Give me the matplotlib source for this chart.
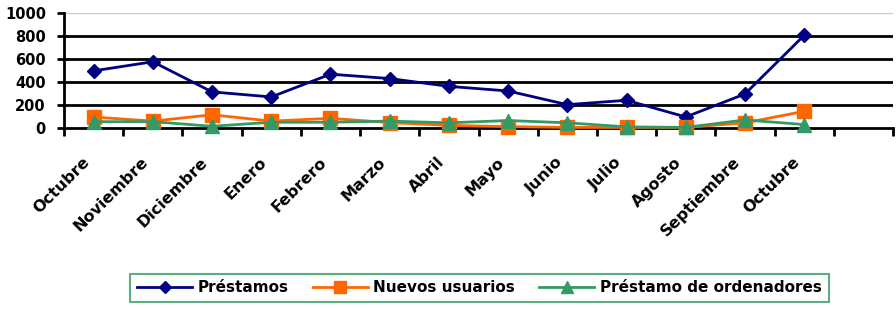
import numpy as np
import matplotlib.pyplot as plt
from matplotlib.ticker import FixedLocator
from matplotlib.transforms import ScaledTranslation

meses = ['Octubre', 'Noviembre', 'Diciembre', 'Enero', 'Febrero', 'Marzo', 'Abril',
         'Mayo', 'Junio', 'Julio', 'Agosto', 'Septiembre', 'Octubre']
prestamos = [497, 576, 314, 270, 468, 430, 362, 322, 203, 241, 96, 296, 806]
nuevos_usuarios = [95, 60, 115, 60, 84, 47, 23, 12, 5, 5, 5, 45, 145]
prestamo_ordenadores = [55, 55, 15, 50, 50, 60, 45, 65, 45, 10, 5, 70, 30]

plt.rcParams['font.family'] = ['DejaVu Sans']
plt.rcParams['font.weight'] = 'bold'

fig = plt.figure(figsize=(8.96, 3.09), dpi=100)
ax = fig.add_axes([64 / 896, 1 - 128 / 309, (893 - 64) / 896, 115 / 309])

x = np.arange(len(meses))
ax.plot(x, prestamos, color='#000080', marker='D', markersize=7.5, lw=2,
        label='Préstamos', clip_on=False, zorder=3)
ax.plot(x, nuevos_usuarios, color='#FF6600', marker='s', markersize=9.5, lw=2,
        label='Nuevos usuarios', clip_on=False, zorder=4)
ax.plot(x, prestamo_ordenadores, color='#339966', marker='^', markersize=10, lw=2,
        label='Préstamo de ordenadores', clip_on=False, zorder=5)

ax.set_xlim(-0.5, 13.5)
ax.set_ylim(0, 1000)
ax.set_yticks(range(0, 1001, 200))
for v in range(200, 1000, 200):
    ax.axhline(v, color='black', lw=2, zorder=1)
ax.axhline(1000, color='#cccccc', lw=1, zorder=1)

ax.set_xticks(x)
ax.set_xticklabels(meses, rotation=45, ha='right', va='top', rotation_mode='anchor',
                   fontsize=11.5, fontweight='bold')
ax.tick_params(axis='x', which='major', length=0, pad=19)
shift = ScaledTranslation(-12 / 100, 0, fig.dpi_scale_trans)
for t in ax.get_xticklabels():
    t.set_transform(t.get_transform() + shift)
ax.xaxis.set_minor_locator(FixedLocator(np.arange(-0.5, 14, 1)))
ax.tick_params(axis='x', which='minor', length=6, width=2, direction='out')
ax.tick_params(axis='y', length=5, width=2, labelsize=10.5, pad=8)
for t in ax.get_yticklabels():
    t.set_fontweight('bold')

for s in ['top', 'right']:
    ax.spines[s].set_visible(False)
ax.spines['left'].set_linewidth(2)
ax.spines['bottom'].set_linewidth(2)

leg = fig.legend(loc='center', bbox_to_anchor=(0.535, 0.068), ncol=3, frameon=True,
                 fancybox=False, edgecolor='#339966', fontsize=11,
                 handlelength=3.6, columnspacing=1.6, handletextpad=0.35,
                 borderpad=0.45, markerscale=0.85)
leg.get_frame().set_linewidth(1.5)
for t in leg.get_texts():
    t.set_fontweight('bold')

fig.savefig('out.png', dpi=100)
